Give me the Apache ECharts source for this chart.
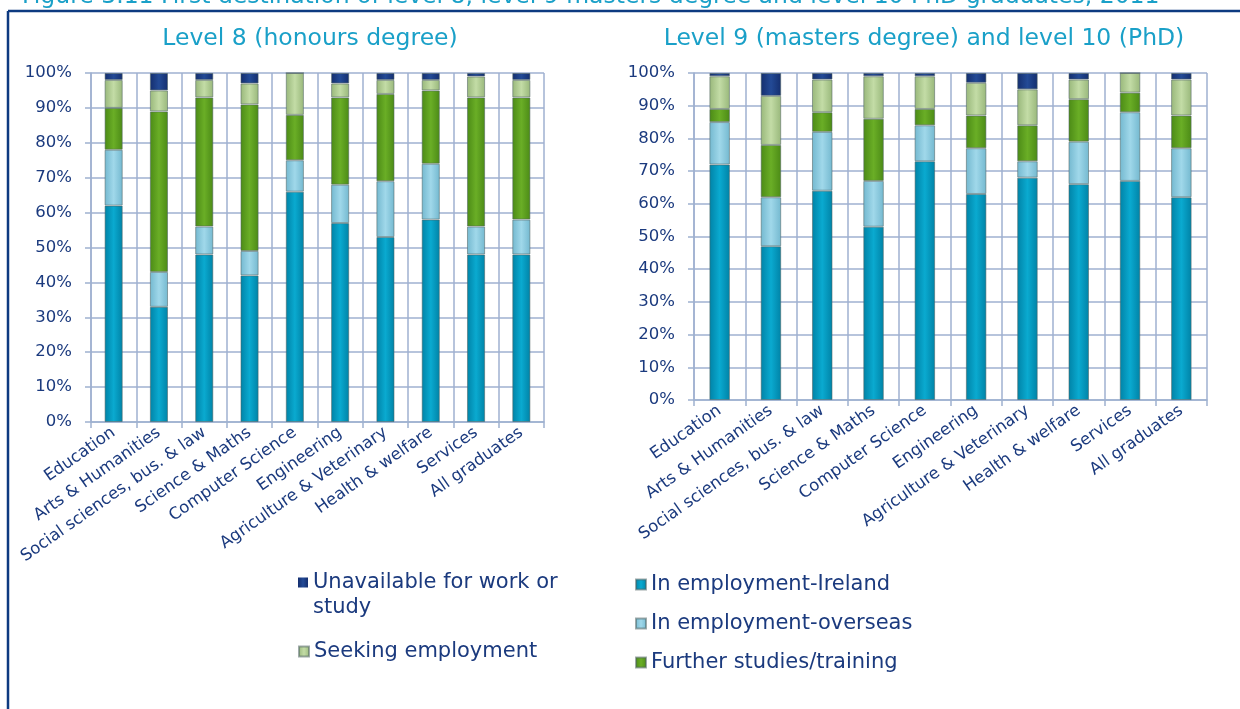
<!DOCTYPE html>
<html>
<head>
  <meta charset="utf-8">
  <title>First destination of graduates</title>
  <script src="https://cdn.jsdelivr.net/npm/echarts@6/dist/echarts.min.js"></script>
  <style>
    html, body { margin: 0; padding: 0; background: #fff; }
    #main { width: 1240px; height: 709px; }
  </style>
</head>
<body>
  <div id="main"></div>
  <script>
  // categories (same for both panels)
  var categories = ['Education', 'Arts & Humanities', 'Social sciences, bus. & law', 'Science & Maths',
    'Computer Science', 'Engineering', 'Agriculture & Veterinary', 'Health & welfare', 'Services', 'All graduates'];

  var seriesNames = ['In employment-Ireland', 'In employment-overseas', 'Further studies/training',
    'Seeking employment', 'Unavailable for work or study'];

  // Level 8 (honours degree), %
  var l8Ireland     = [62, 33, 48, 42, 66, 57, 53, 58, 48, 48];
  var l8Overseas    = [16, 10,  8,  7,  9, 11, 16, 16,  8, 10];
  var l8Further     = [12, 46, 37, 42, 13, 25, 25, 21, 37, 35];
  var l8Seeking     = [ 8,  6,  5,  6, 12,  4,  4,  3,  6,  5];
  var l8Unavailable = [ 2,  5,  2,  3,  0,  3,  2,  2,  1,  2];

  // Level 9 (masters) and level 10 (PhD), %
  var l9Ireland     = [72, 47, 64, 53, 73, 63, 68, 66, 67, 62];
  var l9Overseas    = [13, 15, 18, 14, 11, 14,  5, 13, 21, 15];
  var l9Further     = [ 4, 16,  6, 19,  5, 10, 11, 13,  6, 10];
  var l9Seeking     = [10, 15, 10, 13, 10, 10, 11,  6,  6, 11];
  var l9Unavailable = [ 1,  7,  2,  1,  1,  3,  5,  2,  0,  2];

  var yTicks = [0, 10, 20, 30, 40, 50, 60, 70, 80, 90, 100];

  var chart = echarts.init(document.getElementById('main'));

  var navy = '#1b3a7e';
  var gridCol = '#9fb1d0';
  var font = 'DejaVu Sans';

  // bar colours: [edge, centre]
  var barColors = [
    ['#0082a6', '#0aaad0'],   // Ireland
    ['#73b8cf', '#a0d8ea'],   // overseas
    ['#4b8a16', '#6aae26'],   // further studies
    ['#98b77a', '#c3dca6'],   // seeking
    ['#142e6e', '#234a96']    // unavailable
  ];
  function barFill(i) {
    return new echarts.graphic.LinearGradient(0, 0, 1, 0, [
      {offset: 0, color: barColors[i][0]},
      {offset: 0.5, color: barColors[i][1]},
      {offset: 1, color: barColors[i][0]}
    ]);
  }

  var panels = [
    [l8Ireland, l8Overseas, l8Further, l8Seeking, l8Unavailable],
    [l9Ireland, l9Overseas, l9Further, l9Seeking, l9Unavailable]
  ];

  var series = [];
  panels.forEach(function(p, pi){
    p.forEach(function(values, si){
      series.push({
        name: seriesNames[si],
        type: 'bar',
        stack: 'p' + pi,
        xAxisIndex: pi,
        yAxisIndex: pi,
        barWidth: '40%',
        data: values,
        itemStyle: {
          color: barFill(si),
          borderColor: 'rgba(80,100,100,0.55)',
          borderWidth: 1
        }
      });
    });
  });

  function xAxisCfg(gi) {
    return {
      type: 'category',
      gridIndex: gi,
      data: categories,
      axisLine: { lineStyle: { color: gridCol, width: 1.5 } },
      axisTick: { show: true, length: 6, lineStyle: { color: gridCol, width: 1.5 } },
      splitLine: { show: true, lineStyle: { color: gridCol, width: 1.5 } },
      axisLabel: { rotate: 35, margin: 9, color: navy, fontFamily: font, fontSize: 16.5, interval: 0 }
    };
  }
  function yAxisCfg(gi) {
    return {
      type: 'value',
      gridIndex: gi,
      min: yTicks[0],
      max: yTicks[yTicks.length - 1],
      interval: 10,
      axisLine: { show: true, lineStyle: { color: gridCol, width: 1.5 } },
      axisTick: { show: true, length: 6, lineStyle: { color: gridCol, width: 1.5 } },
      splitLine: { show: true, lineStyle: { color: gridCol, width: 1.5 } },
      axisLabel: { margin: 19, color: navy, fontFamily: font, fontSize: 16.5, formatter: '{value}%' }
    };
  }

  var legendText = { color: navy, fontFamily: font, fontSize: 21, lineHeight: 25 };

  var option = {
    animation: false,
    backgroundColor: '#fff',
    title: [
      { text: 'Level 8 (honours degree)', left: 305, top: 22, textAlign: 'center',
        textStyle: { color: '#1aa0c8', fontFamily: font, fontWeight: 'normal', fontSize: 23.5 } },
      { text: 'Level 9 (masters degree) and level 10 (PhD)', left: 919, top: 22, textAlign: 'center',
        textStyle: { color: '#1aa0c8', fontFamily: font, fontWeight: 'normal', fontSize: 23.5 } }
    ],
    graphic: [
      { type: 'text', x: 22, y: 9, silent: true,
        style: { text: 'Figure 3.11 First destination of level 8, level 9 masters degree and level 10 PhD graduates, 2011',
          fill: '#1aa0c8', font: '23.5px "DejaVu Sans"', verticalAlign: 'bottom' } },
      { type: 'line', silent: true, shape: { x1: 8, y1: 11, x2: 1240, y2: 11 }, style: { stroke: '#0d3a80', lineWidth: 2.5 } },
      { type: 'line', silent: true, shape: { x1: 8, y1: 11, x2: 8, y2: 709 }, style: { stroke: '#0d3a80', lineWidth: 2.5 } }
    ],
    legend: [
      // two-line entry: icon box is tall with the square at its top so it sits on the first line
      { left: 293, top: 565, orient: 'vertical', itemWidth: 10, itemHeight: 35,
        icon: 'path://M0,0H10V10H0Z M0,35L10,35',
        itemStyle: { borderWidth: 0 },
        data: ['Unavailable for work or study'],
        formatter: function(n){ return 'Unavailable for work or\nstudy'; },
        textStyle: legendText },
      { left: 293, top: 634, orient: 'vertical', icon: 'rect', itemWidth: 10, itemHeight: 10,
        data: ['Seeking employment'],
        textStyle: legendText },
      { left: 630, top: 567, orient: 'vertical', icon: 'rect', itemWidth: 10, itemHeight: 10, itemGap: 14,
        data: ['In employment-Ireland', 'In employment-overseas', 'Further studies/training'],
        textStyle: legendText }
    ],
    grid: [
      { left: 91, top: 73, width: 453, height: 349 },
      { left: 694, top: 73, width: 513, height: 327 }
    ],
    xAxis: [xAxisCfg(0), xAxisCfg(1)],
    yAxis: [yAxisCfg(0), yAxisCfg(1)],
    series: series
  };

  chart.setOption(option);
  </script>
</body>
</html>
